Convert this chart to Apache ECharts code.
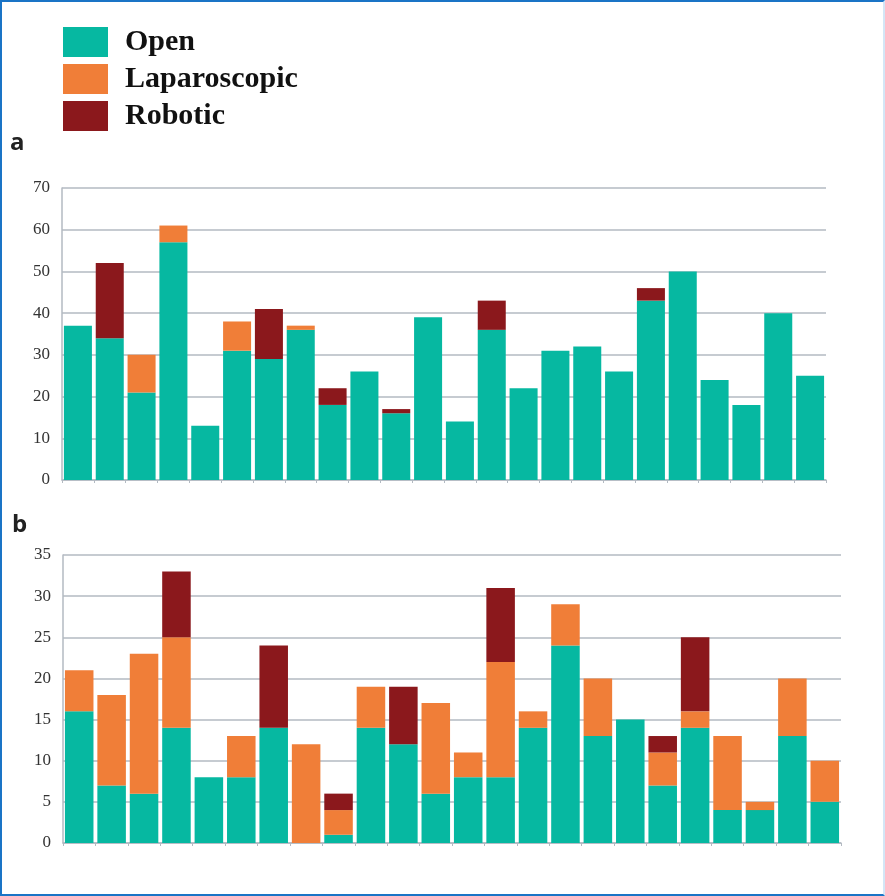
<!DOCTYPE html>
<html>
<head>
<meta charset="utf-8">
<script src="https://cdn.jsdelivr.net/npm/echarts@6/dist/echarts.min.js"></script>
<style>
html,body{margin:0;padding:0;background:#fff;}
#chart{position:absolute;left:0;top:0;width:885px;height:896px;}
#frame{position:absolute;left:0;top:0;width:885px;height:896px;box-sizing:border-box;
border-top:2px solid #1a74c6;border-left:2px solid #1a74c6;border-bottom:2px solid #1a74c6;border-right:2px solid #d4e6f6;pointer-events:none;}
</style>
</head>
<body>
<div id="chart"></div>
<div id="frame"></div>
<script>
const categories = Array.from({length:24},(_,i)=>String(i+1));
// Panel a
const aOpen  = [37,34,21,57,13,31,29,36,18,26,16,39,14,36,22,31,32,26,43,50,24,18,40,25];
const aLap   = [0,0,9,4,0,7,0,1,0,0,0,0,0,0,0,0,0,0,0,0,0,0,0,0];
const aRob   = [0,18,0,0,0,0,12,0,4,0,1,0,0,7,0,0,0,0,3,0,0,0,0,0];
// Panel b
const bOpen  = [16,7,6,14,8,8,14,0,1,14,12,6,8,8,14,24,13,15,7,14,4,4,13,5];
const bLap   = [5,11,17,11,0,5,0,12,3,5,0,11,3,14,2,5,7,0,4,2,9,1,7,5];
const bRob   = [0,0,0,8,0,0,10,0,2,0,7,0,0,9,0,0,0,0,2,9,0,0,0,0];
const aTicks = [0,10,20,30,40,50,60,70];
const bTicks = [0,5,10,15,20,25,30,35];

const COL = {open:'#06b8a1', lap:'#f07e38', rob:'#8b181c'};
const chart = echarts.init(document.getElementById('chart'));

function yAx(gi, ticks){
  return {
    type:'value', gridIndex:gi, min:ticks[0], max:ticks[ticks.length-1], interval:ticks[1]-ticks[0],
    axisLine:{show:true, lineStyle:{color:'#b3bac2', width:1.5}},
    axisTick:{show:false},
    splitLine:{lineStyle:{color:'#b3bac2', width:1.5}},
    axisLabel:{color:'#333', fontFamily:'Liberation Serif', fontSize:17, margin:12}
  };
}
function xAx(gi){
  return {
    type:'category', gridIndex:gi, data:categories,
    axisLine:{lineStyle:{color:'#b3bac2', width:1.5}},
    axisTick:{show:true, length:3, lineStyle:{color:'#b3bac2'}},
    axisLabel:{show:false}
  };
}
function ser(name, data, gi, color, stack){
  return {
    name, type:'bar', xAxisIndex:gi, yAxisIndex:gi, stack, data,
    barCategoryGap:'12%', itemStyle:{color}, animation:false
  };
}

chart.setOption({
  animation:false,
  legend:{
    orient:'vertical', left:58, top:22, itemWidth:45, itemHeight:30, itemGap:7,
    icon:'rect',
    data:['Open','Laparoscopic','Robotic'],
    textStyle:{fontFamily:'Liberation Serif', fontWeight:'bold', fontSize:30, lineHeight:30, color:'#111', padding:[0,0,0,12]}
  },
  grid:[
    {left:62, right:59, top:188, height:292},
    {left:63, right:44, top:555, height:288}
  ],
  xAxis:[xAx(0), xAx(1)],
  yAxis:[yAx(0,aTicks), yAx(1,bTicks)],
  graphic:[
    {type:'text', left:10, top:131, style:{text:'a', fontFamily:'Open Sans', fontWeight:'bold', fontSize:24, fill:'#222'}},
    {type:'text', left:12, top:513, style:{text:'b', fontFamily:'Open Sans', fontWeight:'bold', fontSize:24, fill:'#222'}}
  ],
  series:[
    ser('Open', aOpen, 0, COL.open, 'a'),
    ser('Laparoscopic', aLap, 0, COL.lap, 'a'),
    ser('Robotic', aRob, 0, COL.rob, 'a'),
    ser('Open', bOpen, 1, COL.open, 'b'),
    ser('Laparoscopic', bLap, 1, COL.lap, 'b'),
    ser('Robotic', bRob, 1, COL.rob, 'b')
  ]
});
</script>
</body>
</html>
